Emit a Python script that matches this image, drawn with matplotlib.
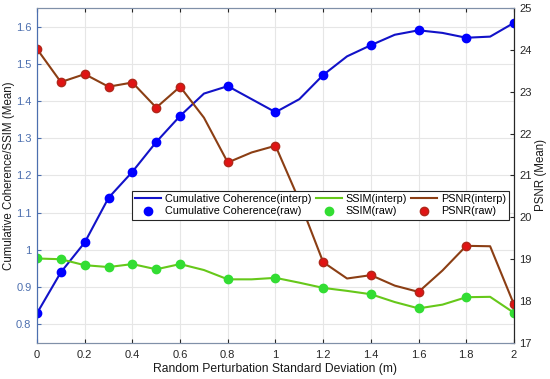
import matplotlib
matplotlib.use("Agg")
import matplotlib.pyplot as plt

plt.rcParams["font.family"] = ["Liberation Sans", "DejaVu Sans"]

# values
x_raw = [0, 0.1, 0.2, 0.3, 0.4, 0.5, 0.6, 0.8, 1.0, 1.2, 1.4, 1.6, 1.8, 2.0]
x_interp = [0, 0.1, 0.2, 0.3, 0.4, 0.5, 0.6, 0.7, 0.8, 0.9, 1.0,
            1.1, 1.2, 1.3, 1.4, 1.5, 1.6, 1.7, 1.8, 1.9, 2.0]

coh_raw = [0.83, 0.94, 1.02, 1.14, 1.21, 1.29, 1.36, 1.44, 1.37, 1.47, 1.55, 1.59, 1.57, 1.61]
coh_interp = [0.83, 0.94, 1.02, 1.14, 1.21, 1.29, 1.36, 1.42, 1.44, 1.405, 1.37,
              1.405, 1.47, 1.52, 1.55, 1.578, 1.59, 1.583, 1.57, 1.573, 1.61]

ssim_raw = [0.977, 0.975, 0.959, 0.954, 0.962, 0.948, 0.962, 0.921, 0.925, 0.898, 0.881, 0.843, 0.873, 0.831]
ssim_interp = [0.977, 0.975, 0.959, 0.954, 0.962, 0.948, 0.962, 0.946, 0.921, 0.921, 0.925,
               0.912, 0.898, 0.89, 0.881, 0.86, 0.843, 0.853, 0.873, 0.874, 0.831]

psnr_raw = [24.02, 23.23, 23.42, 23.12, 23.22, 22.62, 23.12, 21.31, 21.71, 18.93, 18.62, 18.22, 19.32, 17.92]
psnr_interp = [24.02, 23.23, 23.42, 23.12, 23.22, 22.62, 23.12, 22.38, 21.31, 21.55, 21.71,
               20.4, 18.93, 18.54, 18.62, 18.37, 18.22, 18.73, 19.32, 19.31, 17.92]

x_ticks = [0, 0.2, 0.4, 0.6, 0.8, 1, 1.2, 1.4, 1.6, 1.8, 2]
x_labels = ["0", "0.2", "0.4", "0.6", "0.8", "1", "1.2", "1.4", "1.6", "1.8", "2"]
left_ticks = [0.8, 0.9, 1.0, 1.1, 1.2, 1.3, 1.4, 1.5, 1.6]
left_labels = ["0.8", "0.9", "1", "1.1", "1.2", "1.3", "1.4", "1.5", "1.6"]
right_ticks = [17, 18, 19, 20, 21, 22, 23, 24, 25]

left_col = "#4C6FAF"
dark = "#262626"

fig = plt.figure(figsize=(5.5, 3.79), dpi=100)
ax = fig.add_axes([0.0673, 0.095, 0.8672, 0.884])
ax2 = ax.twinx()

h1, = ax.plot(x_interp, coh_interp, color="#1212C8", lw=1.5, label="Cumulative Coherence(interp)")
h2, = ax.plot(x_raw, coh_raw, "o", color="#0000FF", ms=6, label="Cumulative Coherence(raw)")
h3, = ax.plot(x_interp, ssim_interp, color="#66C81A", lw=1.5, label="SSIM(interp)")
h4, = ax.plot(x_raw, ssim_raw, "o", color="#33DD33", ms=6, label="SSIM(raw)")
h5, = ax2.plot(x_interp, psnr_interp, color="#8B3E14", lw=1.5, label="PSNR(interp)")
h6, = ax2.plot(x_raw, psnr_raw, "o", color="#E01414", mec="#B0281A", ms=6, label="PSNR(raw)")

ax.set_xlim(0, 2)
ax.set_ylim(0.75, 1.65)
ax2.set_ylim(17, 25)

ax.set_xticks(x_ticks)
ax.set_xticklabels(x_labels)
ax.set_yticks(left_ticks)
ax.set_yticklabels(left_labels)
ax2.set_yticks(right_ticks)

ax.grid(True, color="#E6E6E6", lw=0.8)
ax.set_axisbelow(True)

ax.tick_params(axis="x", direction="in", top=True, labelsize=8, colors=dark, length=3, pad=5)
ax.tick_params(axis="y", direction="in", labelsize=8, colors=left_col, length=3, pad=4)
ax2.tick_params(axis="y", direction="in", labelsize=8, colors=dark, length=3, pad=4)

for s in ["top", "bottom"]:
    ax.spines[s].set_color("#8090A8")
ax.spines["left"].set_color(left_col)
ax2.spines["left"].set_color(left_col)
ax2.spines["right"].set_color(dark)
ax2.spines["top"].set_color("#8090A8")
ax2.spines["bottom"].set_color("#8090A8")

ax.set_xlabel("Random Perturbation Standard Deviation (m)", fontsize=8.7, color="#1a1a1a", labelpad=2)
ax.set_ylabel("Cumulative Coherence/SSIM (Mean)", fontsize=8.3, color="#1a1a1a", labelpad=1)
ax2.set_ylabel("PSNR (Mean)", fontsize=8.3, color="#1a1a1a", labelpad=2)

leg = ax2.legend(handles=[h1, h2, h3, h4, h5, h6], ncol=3, loc="upper right",
                 bbox_to_anchor=(0.9895, 0.4537), fontsize=7.8, frameon=True,
                 fancybox=False, edgecolor="#262626", framealpha=1,
                 handlelength=2.4, columnspacing=0.45, handletextpad=0.3,
                 borderpad=0.3, labelspacing=0.2, borderaxespad=0)
leg.get_frame().set_linewidth(0.8)

fig.savefig("out.png", dpi=100)
